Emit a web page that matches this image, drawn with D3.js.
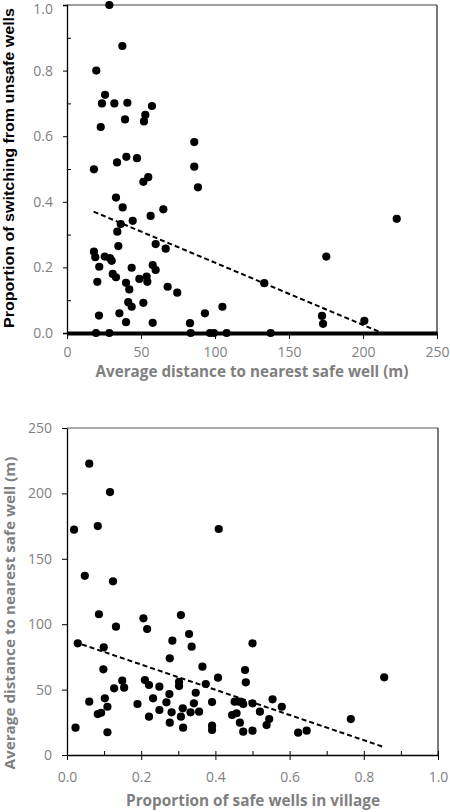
<!DOCTYPE html>
<html><head><meta charset="utf-8">
<script src="https://cdn.jsdelivr.net/npm/d3@7"></script>
<style>html,body{margin:0;padding:0;background:#fff}svg{display:block}</style>
</head><body>
<svg id="c" width="450" height="812"></svg>
<script>
// ---- Top chart: distance vs proportion switching ----
const topDistance = [28.6,37.4,19.8,25.7,23.6,32,40.8,39.2,52.9,52,57.4,22.8,18.2,33.8,40.1,47.3,54.9,51.6,86,86,88.5,33.1,37.6,56.5,65.1,44.4,36.3,34,34.7,59.9,66.7,18.2,19.1,25.5,29,30.2,21.8,43.7,57.9,59.9,30.9,33.1,20.5,39.9,42.1,48.9,53.8,54.3,68,74.5,41.4,43.7,51.6,21.6,35.4,39.9,57.9,83.1,93.2,105,133.3,175.2,222.8,172.3,173,200.9,19.6,28.6,83.6,96.6,99.3,107.9,137.6];
const topSwitching = [1.0,0.875,0.80,0.726,0.70,0.70,0.702,0.651,0.665,0.645,0.692,0.628,0.499,0.52,0.537,0.533,0.475,0.461,0.582,0.507,0.444,0.413,0.383,0.357,0.377,0.342,0.332,0.309,0.265,0.271,0.257,0.248,0.231,0.233,0.228,0.22,0.202,0.199,0.207,0.192,0.18,0.17,0.156,0.153,0.133,0.165,0.172,0.156,0.141,0.123,0.094,0.08,0.092,0.053,0.06,0.033,0.031,0.03,0.06,0.08,0.152,0.233,0.348,0.052,0.028,0.037,0,0,0,0,0,0,0];
const topTrendX = [18, 213];
const topTrendY = [0.37, 0.0];
const topXTicks = [0,50,100,150,200,250];
const topYTicks = [0,0.2,0.4,0.6,0.8,1.0];
const topYMinor = [0.1,0.3,0.5,0.7,0.9];

// ---- Bottom chart: proportion safe wells vs distance ----
const botSafe = [0.060,0.116,0.019,0.083,0.048,0.124,0.409,0.086,0.132,0.206,0.216,0.307,0.329,0.336,0.284,0.277,0.029,0.099,0.098,0.149,0.154,0.127,0.210,0.221,0.249,0.302,0.302,0.347,0.276,0.232,0.268,0.342,0.06,0.102,0.109,0.083,0.092,0.19,0.249,0.282,0.312,0.333,0.307,0.221,0.277,0.313,0.023,0.109,0.356,0.5,0.365,0.48,0.482,0.407,0.855,0.374,0.391,0.391,0.391,0.452,0.464,0.445,0.457,0.475,0.5,0.466,0.475,0.5,0.52,0.554,0.579,0.545,0.538,0.623,0.646,0.765];
const botDistance = [222.7,201,172.3,175,137,132.8,172.8,107.6,98.1,104.5,96.3,107,92.5,82.8,87.4,73.9,85.4,82.3,65.5,56.8,51.5,51,57.3,53.5,52.2,56,52.7,47.6,46.6,43.3,40.3,39.5,40.8,43.3,36.9,31.3,32.3,39,34.4,32.6,35.7,32.6,29.3,29.3,24.7,20.9,20.9,17.4,33.1,85.4,67.5,65,55.6,59.1,59.4,54.3,40.5,22.4,19.1,40.8,40.8,30.6,31.9,39,39.5,24.7,17.8,18.6,33.1,42.6,36.9,27.5,22.9,17.1,18.6,27.5];
const botTrendX = [0.02, 0.852];
const botTrendY = [86.5, 6.3];
const botXTicks = [0,0.2,0.4,0.6,0.8,1.0];
const botXMinor = [0.1,0.3,0.5,0.7,0.9];
const botYTicks = [0,50,100,150,200,250];

const svg = d3.select('#c');
const tickFont = "'Open Sans', sans-serif";
const gray = '#7f7f7f';
const R = 4.1;

function styleAxis(g, labelSize){
  g.selectAll('text').attr('font-family', tickFont).attr('font-size', labelSize).attr('fill', gray);
  g.selectAll('line').attr('stroke', '#000').attr('stroke-width', 1);
}

// ===== TOP =====
const x1 = d3.scaleLinear().domain([0,250]).range([67,437]);
const y1 = d3.scaleLinear().domain([0,1]).range([333,5]);
svg.append('line').attr('x1',x1(0)).attr('x2',x1(250)).attr('y1',y1(1)).attr('y2',y1(1)).attr('stroke','#404040').attr('stroke-width',1.2);
svg.append('line').attr('x1',x1(250)).attr('x2',x1(250)).attr('y1',y1(1)).attr('y2',y1(0)).attr('stroke','#222').attr('stroke-width',1.2);
const gy1 = svg.append('g').attr('transform',`translate(${x1(0)},0)`)
  .call(d3.axisLeft(y1).tickValues(topYTicks).tickSize(4).tickPadding(10).tickFormat(d3.format('.1f')));
gy1.select('.domain').attr('stroke','#000').attr('stroke-width',1.3);
styleAxis(gy1, 14);
gy1.selectAll('.tick text').filter(d=>d===1).attr('dy','0.6em');
svg.append('g').attr('transform',`translate(${x1(0)},0)`)
  .call(d3.axisLeft(y1).tickValues(topYMinor).tickSize(-4).tickFormat(''))
  .call(g=>{g.select('.domain').remove(); g.selectAll('line').attr('stroke','#000');});
const gx1 = svg.append('g').attr('transform',`translate(0,${y1(0)})`)
  .call(d3.axisBottom(x1).tickValues(topXTicks).tickSize(6).tickPadding(8).tickSizeOuter(0));
gx1.select('.domain').attr('stroke','#000').attr('stroke-width',4);
styleAxis(gx1, 14);
svg.append('path').datum(topTrendX.map((d,i)=>[d,topTrendY[i]]))
  .attr('d', d3.line().x(d=>x1(d[0])).y(d=>y1(d[1])))
  .attr('fill','none').attr('stroke','#000').attr('stroke-width',2).attr('stroke-dasharray','5,3');
svg.append('g').selectAll('circle').data(topDistance.map((d,i)=>[d,topSwitching[i]])).join('circle')
  .attr('cx',d=>x1(d[0])).attr('cy',d=>y1(d[1])).attr('r',R).attr('fill','#000');
svg.append('text').attr('x',252).attr('y',377).attr('text-anchor','middle')
  .attr('font-family',tickFont).attr('font-weight','bold').attr('font-size',16).attr('fill',gray)
  .attr('textLength',313).attr('lengthAdjust','spacingAndGlyphs')
  .text('Average distance to nearest safe well (m)');
svg.append('text').attr('transform','translate(14,168) rotate(-90)').attr('text-anchor','middle')
  .attr('font-family',"'Liberation Sans', Arial, sans-serif").attr('font-weight','bold').attr('font-size',14).attr('fill','#000')
  .attr('textLength',320).attr('lengthAdjust','spacingAndGlyphs')
  .text('Proportion of switching from unsafe wells');

// ===== BOTTOM =====
const x2 = d3.scaleLinear().domain([0,1]).range([67,438]);
const y2 = d3.scaleLinear().domain([0,250]).range([755,428]);
svg.append('line').attr('x1',x2(0)).attr('x2',x2(1)).attr('y1',y2(250)).attr('y2',y2(250)).attr('stroke','#595959').attr('stroke-width',1.2);
svg.append('line').attr('x1',x2(1)).attr('x2',x2(1)).attr('y1',y2(250)).attr('y2',y2(0)).attr('stroke','#222').attr('stroke-width',1.2);
const gy2 = svg.append('g').attr('transform',`translate(${x2(0)},0)`)
  .call(d3.axisLeft(y2).tickValues(botYTicks).tickSize(5).tickPadding(10).tickSizeOuter(0));
gy2.select('.domain').attr('stroke','#000').attr('stroke-width',1.3);
styleAxis(gy2, 14);
const gx2 = svg.append('g').attr('transform',`translate(0,${y2(0)})`)
  .call(d3.axisBottom(x2).tickValues(botXTicks).tickSize(5).tickPadding(12).tickSizeOuter(0).tickFormat(d3.format('.1f')));
gx2.select('.domain').attr('stroke','#000').attr('stroke-width',1.3);
styleAxis(gx2, 14);
svg.append('g').attr('transform',`translate(0,${y2(0)})`)
  .call(d3.axisBottom(x2).tickValues(botXTicks.concat(botXMinor)).tickSize(-4).tickFormat(''))
  .call(g=>{g.select('.domain').remove(); g.selectAll('line').attr('stroke','#000');});
svg.append('path').datum(botTrendX.map((d,i)=>[d,botTrendY[i]]))
  .attr('d', d3.line().x(d=>x2(d[0])).y(d=>y2(d[1])))
  .attr('fill','none').attr('stroke','#000').attr('stroke-width',2).attr('stroke-dasharray','5,3');
svg.append('g').selectAll('circle').data(botSafe.map((d,i)=>[d,botDistance[i]])).join('circle')
  .attr('cx',d=>x2(d[0])).attr('cy',d=>y2(d[1])).attr('r',R).attr('fill','#000');
svg.append('text').attr('x',253).attr('y',806).attr('text-anchor','middle')
  .attr('font-family',tickFont).attr('font-weight','bold').attr('font-size',16).attr('fill',gray)
  .attr('textLength',254).attr('lengthAdjust','spacingAndGlyphs')
  .text('Proportion of safe wells in village');
svg.append('text').attr('transform','translate(15,613) rotate(-90)').attr('text-anchor','middle')
  .attr('font-family',tickFont).attr('font-weight','bold').attr('font-size',14.5).attr('fill',gray)
  .attr('textLength',313).attr('lengthAdjust','spacingAndGlyphs')
  .text('Average distance to nearest safe well (m)');
</script>
</body></html>
